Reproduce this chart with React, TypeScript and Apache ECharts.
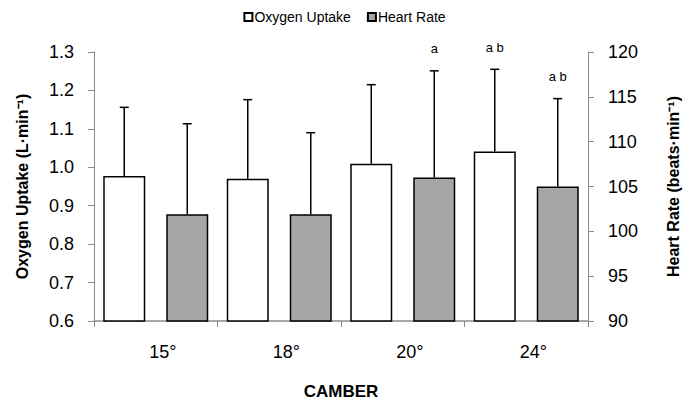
import React, { useEffect, useRef } from "react";
import * as echarts from "echarts";

const categories = ["15°", "18°", "20°", "24°"];
const oxygenMean = [0.977, 0.97, 1.009, 1.041];
const oxygenSD = [0.179, 0.206, 0.206, 0.214];
const heartMean = [101.9, 101.9, 106.0, 105.0];
const heartSD = [10.1, 9.1, 11.9, 9.8];
const oxygenMarks = ["", "", "", "a b"];
const heartMarks = ["", "", "a", "a b"];
const leftTicks = [0.6, 1.3, 0.1];
const rightTicks = [90, 120, 5];

const FONT = "'Liberation Sans', Arial, sans-serif";
const BAR_W = 42;
const BAR_GAP = 21;
const OFFSET = (BAR_W + BAR_GAP) / 2;

function errorSeries(name: string, means: number[], sds: number[], marks: string[], axis: number, dx: number) {
  return {
    type: "custom",
    name: name + " err",
    yAxisIndex: axis,
    z: 5,
    silent: true,
    data: means.map((m, i) => [i, m, sds[i]]),
    renderItem: (params: any, api: any) => {
      const i = api.value(0);
      const m = api.value(1);
      const s = api.value(2);
      const mark = marks[i];
      const base = api.coord([i, m]);
      const top = api.coord([i, m + s]);
      const x = base[0] + dx;
      const children: any[] = [
        { type: "line", shape: { x1: x, y1: base[1], x2: x, y2: top[1] }, style: { stroke: "#000", lineWidth: 1.5 } },
        { type: "line", shape: { x1: x - 4.5, y1: top[1], x2: x + 4.5, y2: top[1] }, style: { stroke: "#000", lineWidth: 1.5 } },
      ];
      if (mark) {
        children.push({
          type: "text",
          style: { text: mark, x: x, y: top[1] - 22, align: "center", verticalAlign: "middle", fontSize: 13, fontFamily: FONT, fill: "#000" },
        });
      }
      return { type: "group", children };
    },
  };
}

export default function App() {
  const ref = useRef<HTMLDivElement>(null);
  useEffect(() => {
    if (!ref.current) return;
    const chart = echarts.init(ref.current, null, { renderer: "svg" });
    const axisColor = "#8c8c8c";
    chart.setOption({
      animation: false,
      textStyle: { fontFamily: FONT },
      legend: {
        top: 5,
        left: "center",
        itemWidth: 8,
        itemHeight: 8,
        itemGap: 16,
        icon: "rect",
        data: ["Oxygen Uptake", "Heart Rate"],
        textStyle: { fontSize: 14, color: "#000", fontFamily: FONT, padding: [0, 0, 0, -3] },
      },
      grid: { left: 94, right: 92, top: 52, bottom: 83 },
      xAxis: {
        type: "category",
        data: categories,
        name: "CAMBER",
        nameLocation: "middle",
        nameGap: 62,
        nameTextStyle: { fontSize: 17, fontWeight: "bold", color: "#000", fontFamily: FONT },
        axisLine: { lineStyle: { color: axisColor, width: 1.5 } },
        axisTick: { show: true, length: 6, lineStyle: { color: axisColor } },
        axisLabel: { fontSize: 18, color: "#000", margin: 22, fontFamily: FONT, padding: [0, 0, 0, 14] },
      },
      yAxis: [
        {
          type: "value",
          min: leftTicks[0],
          max: leftTicks[1],
          interval: leftTicks[2],
          name: "Oxygen Uptake (L·min⁻¹)",
          nameLocation: "middle",
          nameGap: 64,
          nameRotate: 90,
          nameTextStyle: { fontSize: 16, fontWeight: "bold", color: "#000", fontFamily: FONT },
          axisLine: { show: true, lineStyle: { color: axisColor } },
          axisTick: { show: true, length: 6, lineStyle: { color: axisColor } },
          splitLine: { show: false },
          axisLabel: { fontSize: 18, color: "#000", margin: 20, fontFamily: FONT, formatter: (v: number) => v.toFixed(1) },
        },
        {
          type: "value",
          min: rightTicks[0],
          max: rightTicks[1],
          interval: rightTicks[2],
          name: "Heart Rate (beats·min⁻¹)",
          nameLocation: "middle",
          nameGap: 77,
          nameRotate: 90,
          nameTextStyle: { fontSize: 16, fontWeight: "bold", color: "#000", fontFamily: FONT },
          axisLine: { show: true, lineStyle: { color: axisColor } },
          axisTick: { show: true, length: 6, lineStyle: { color: axisColor } },
          splitLine: { show: false },
          axisLabel: { fontSize: 18, color: "#000", margin: 20, fontFamily: FONT },
        },
      ],
      series: [
        {
          name: "Oxygen Uptake",
          type: "bar",
          yAxisIndex: 0,
          barWidth: BAR_W,
          barGap: "50%",
          data: oxygenMean,
          itemStyle: { color: "#ffffff", borderColor: "#000", borderWidth: 1.5 },
        },
        {
          name: "Heart Rate",
          type: "bar",
          yAxisIndex: 1,
          barWidth: BAR_W,
          barGap: "50%",
          data: heartMean,
          itemStyle: { color: "#a6a6a6", borderColor: "#000", borderWidth: 1.5 },
        },
        errorSeries("Oxygen Uptake", oxygenMean, oxygenSD, oxygenMarks, 0, -OFFSET),
        errorSeries("Heart Rate", heartMean, heartSD, heartMarks, 1, OFFSET),
      ],
    });
    return () => chart.dispose();
  }, []);
  return <div ref={ref} style={{ width: 689, height: 405, position: "absolute", left: 0, top: 0 }} />;
}
